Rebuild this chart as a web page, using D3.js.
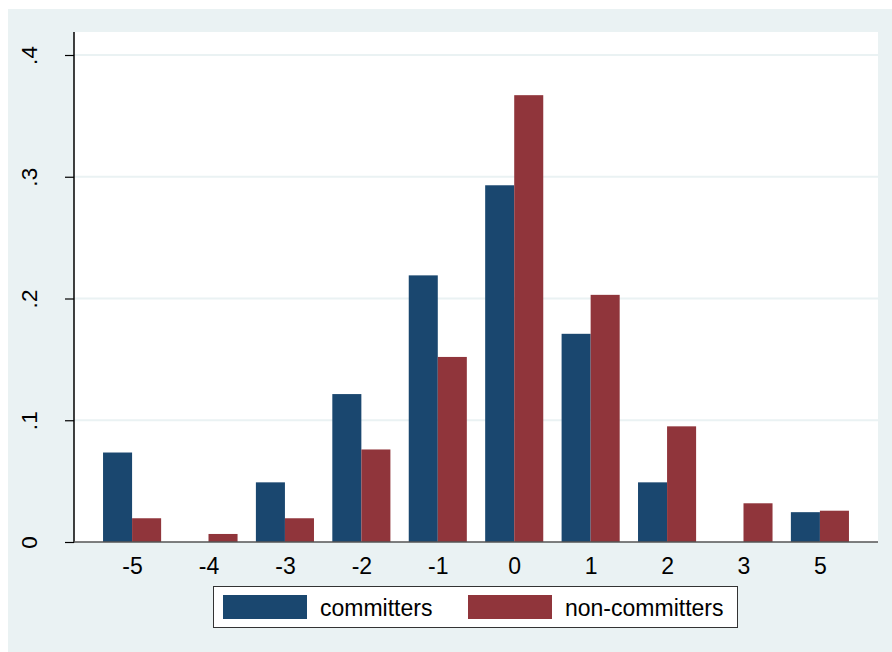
<!DOCTYPE html>
<html>
<head>
<meta charset="utf-8">
<script src="https://cdn.jsdelivr.net/npm/d3@7"></script>
<style>
  html, body { margin: 0; padding: 0; background: #ffffff; }
  svg { display: block; font-family: "Liberation Sans", Arial, sans-serif; }
</style>
</head>
<body>
<svg id="chart" width="892" height="652"></svg>
<script>
// Distribution of score changes, committers vs non-committers
const categories = ["-5", "-4", "-3", "-2", "-1", "0", "1", "2", "3", "5"];
const committers = [0.0735, 0, 0.049, 0.1215, 0.219, 0.293, 0.171, 0.049, 0, 0.0245];
const nonCommitters = [0.0195, 0.0066, 0.0195, 0.076, 0.152, 0.367, 0.203, 0.095, 0.0318, 0.0257];
const yTicks = [0, 0.1, 0.2, 0.3, 0.4];
const yTickLabels = ["0", ".1", ".2", ".3", ".4"];
const seriesNames = ["committers", "non-committers"];
const seriesColors = ["#1a476f", "#90353b"];

const svg = d3.select("#chart");
const W = 892, H = 652;
const plot = { left: 74, right: 878, top: 32, bottom: 542 };

// outer graph region
svg.append("rect").attr("x", 8).attr("y", 9).attr("width", W - 8).attr("height", H - 9)
  .attr("fill", "#eaf2f3");
// plot region
svg.append("rect").attr("x", plot.left).attr("y", plot.top)
  .attr("width", plot.right - plot.left).attr("height", plot.bottom - plot.top)
  .attr("fill", "#ffffff");

const x = d3.scalePoint().domain(categories).range([plot.left, plot.right]).padding(0.76);
const y = d3.scaleLinear().domain([0, 0.4]).range([plot.bottom, 55]);
const barW = x.step() * 0.38;

// horizontal grid lines
svg.append("g").selectAll("line").data(yTicks.filter(d => d > 0)).join("line")
  .attr("x1", plot.left).attr("x2", plot.right)
  .attr("y1", d => y(d)).attr("y2", d => y(d))
  .attr("stroke", "#eaf2f3").attr("stroke-width", 2);

// bars
const groups = [committers, nonCommitters];
groups.forEach((vals, si) => {
  svg.append("g").selectAll("rect").data(vals.map((v, i) => ({ c: categories[i], v }))).join("rect")
    .attr("x", d => x(d.c) - barW + si * barW)
    .attr("y", d => y(d.v))
    .attr("width", barW)
    .attr("height", d => y(0) - y(d.v))
    .attr("fill", seriesColors[si]);
});

// y axis
const yAxis = d3.axisLeft(y).tickValues(yTicks).tickSize(9).tickPadding(0)
  .tickFormat((d, i) => yTickLabels[i]);
const gy = svg.append("g").attr("transform", `translate(${plot.left},0)`).call(yAxis);
gy.select(".domain").remove();
gy.selectAll(".tick line").attr("stroke", "#000").attr("stroke-width", 1.2);
gy.selectAll(".tick text").remove();
gy.selectAll(".tick").append("text")
  .attr("transform", "translate(-37,0) rotate(-90)")
  .attr("text-anchor", "middle")
  .attr("dy", "0em")
  .attr("fill", "#000")
  .attr("font-size", 22.5)
  .text((d, i) => yTickLabels[i]);
svg.append("line").attr("x1", plot.left).attr("x2", plot.left)
  .attr("y1", plot.top).attr("y2", plot.bottom + 0.5)
  .attr("stroke", "#000").attr("stroke-width", 1.5);

// x axis baseline
svg.append("line").attr("x1", plot.left).attr("x2", plot.right)
  .attr("y1", plot.bottom).attr("y2", plot.bottom)
  .attr("stroke", "#555").attr("stroke-width", 1.5);

// x tick labels
const xAxis = d3.axisBottom(x).tickSize(0).tickPadding(0);
const gx = svg.append("g").attr("transform", `translate(0,${plot.bottom})`).call(xAxis);
gx.select(".domain").remove();
gx.selectAll(".tick text").attr("y", 31.5).attr("dy", 0)
  .attr("font-size", 23).attr("fill", "#000")
  .attr("font-family", "Liberation Sans, Arial, sans-serif");

// legend
const lg = svg.append("g");
lg.append("rect").attr("x", 213.5).attr("y", 586.5).attr("width", 524).attr("height", 41)
  .attr("fill", "#ffffff").attr("stroke", "#333").attr("stroke-width", 1);
const legendItems = [
  { name: seriesNames[0], color: seriesColors[0], sx: 223, tx: 320 },
  { name: seriesNames[1], color: seriesColors[1], sx: 468, tx: 565 }
];
legendItems.forEach(it => {
  lg.append("rect").attr("x", it.sx).attr("y", 595).attr("width", 84).attr("height", 24)
    .attr("fill", it.color);
  lg.append("text").attr("x", it.tx).attr("y", 615.5)
    .attr("font-size", 23).attr("fill", "#000").text(it.name);
});
</script>
</body>
</html>
